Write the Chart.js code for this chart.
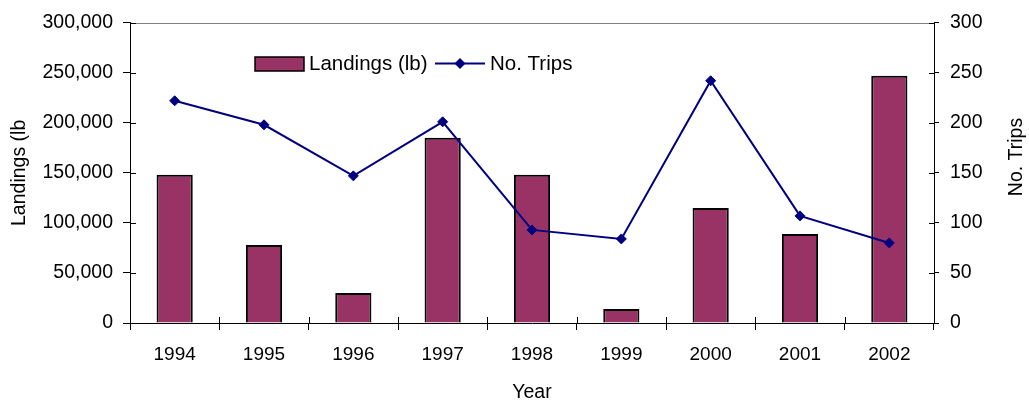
<!DOCTYPE html>
<html>
<head>
<meta charset="utf-8">
<script src="https://cdn.jsdelivr.net/npm/chart.js@4.4.1/dist/chart.umd.min.js"></script>
<style>
  html, body { margin: 0; padding: 0; background: #fff; }
  #wrap { width: 1029px; height: 405px; position: relative; }
</style>
</head>
<body>
<div id="wrap"><canvas id="c"></canvas></div>
<script>
const years = ['1994', '1995', '1996', '1997', '1998', '1999', '2000', '2001', '2002'];
const landings = [148000, 78000, 30000, 185000, 148000, 14000, 115000, 89000, 247000];
const trips = [222, 198, 147, 201, 93, 84, 242, 107, 80];
const leftTickLabels = ['0', '50,000', '100,000', '150,000', '200,000', '250,000', '300,000'];
const rightTickLabels = ['0', '50', '100', '150', '200', '250', '300'];
const seriesNames = ['Landings (lb)', 'No. Trips'];
const axisTitles = { x: 'Year', left: 'Landings (lb', right: 'No. Trips' };

const FONT = "'Liberation Sans', Arial, sans-serif";
const BAR_COLOR = '#993366';
const LINE_COLOR = '#000080';

const extras = {
  id: 'extras',
  afterDraw(chart) {
    const ctx = chart.ctx;
    const ca = chart.chartArea;
    const sx = chart.scales.x, sy = chart.scales.y, sy1 = chart.scales.y1;
    ctx.save();
    // top border of plot area
    ctx.strokeStyle = '#808080';
    ctx.lineWidth = 1;
    ctx.beginPath();
    ctx.moveTo(ca.left, Math.round(ca.top) + 0.5);
    ctx.lineTo(ca.right, Math.round(ca.top) + 0.5);
    ctx.stroke();
    // inner halves of cross tick marks
    ctx.strokeStyle = '#000';
    ctx.beginPath();
    sy.ticks.forEach((t) => {
      const y = Math.round(sy.getPixelForValue(t.value)) + 0.5;
      ctx.moveTo(ca.left, y); ctx.lineTo(ca.left + 6, y);
    });
    sy1.ticks.forEach((t) => {
      const y = Math.round(sy1.getPixelForValue(t.value)) + 0.5;
      ctx.moveTo(ca.right - 5, y); ctx.lineTo(ca.right, y);
    });
    for (let i = 0; i <= years.length; i++) {
      const x = Math.round(sx.getPixelForValue(i - 0.5)) + 0.5;
      ctx.moveTo(x, ca.bottom); ctx.lineTo(x, ca.bottom - 6);
    }
    ctx.stroke();

    // legend
    const lineDs = chart.data.datasets[0], barDs = chart.data.datasets[1];
    ctx.font = '20.5px ' + FONT;
    ctx.textBaseline = 'middle';
    ctx.textAlign = 'left';
    ctx.fillStyle = barDs.backgroundColor;
    ctx.fillRect(255, 57, 49, 14);
    ctx.strokeStyle = barDs.borderColor;
    ctx.lineWidth = 1.5;
    ctx.strokeRect(255, 57, 49, 14);
    ctx.fillStyle = '#000';
    ctx.fillText(barDs.label, 309, 64);
    ctx.strokeStyle = lineDs.borderColor;
    ctx.lineWidth = 2;
    ctx.beginPath();
    ctx.moveTo(435, 63.5); ctx.lineTo(485, 63.5);
    ctx.stroke();
    ctx.fillStyle = lineDs.borderColor;
    ctx.beginPath();
    ctx.moveTo(454.5, 63.5); ctx.lineTo(460, 58); ctx.lineTo(465.5, 63.5); ctx.lineTo(460, 69);
    ctx.closePath();
    ctx.fill();
    ctx.fillStyle = '#000';
    ctx.fillText(lineDs.label, 490, 64);

    // right axis title reading bottom-to-top
    ctx.font = '19.5px ' + FONT;
    ctx.translate(1017, 157);
    ctx.rotate(-Math.PI / 2);
    ctx.textAlign = 'center';
    ctx.fillText(axisTitles.right, 0, 0);
    ctx.restore();
  }
};

new Chart(document.getElementById('c'), {
  data: {
    labels: years,
    datasets: [
      {
        type: 'line',
        label: seriesNames[1],
        data: trips,
        yAxisID: 'y1',
        borderColor: LINE_COLOR,
        backgroundColor: LINE_COLOR,
        borderWidth: 2,
        tension: 0,
        pointStyle: 'rectRot',
        pointRadius: 5,
        pointBorderWidth: 1,
        pointBackgroundColor: LINE_COLOR,
        pointBorderColor: LINE_COLOR,
        order: 0
      },
      {
        type: 'bar',
        label: seriesNames[0],
        data: landings,
        yAxisID: 'y',
        backgroundColor: BAR_COLOR,
        borderColor: '#000',
        borderWidth: 2,
        barPercentage: 0.405,
        categoryPercentage: 1,
        order: 1
      }
    ]
  },
  options: {
    responsive: true,
    maintainAspectRatio: false,
    animation: false,
    devicePixelRatio: 1,
    layout: { padding: { top: 19, left: 0, right: 0, bottom: 0 } },
    plugins: { legend: { display: false }, tooltip: { enabled: false } },
    scales: {
      x: {
        type: 'category',
        offset: true,
        grid: { offset: true, drawOnChartArea: false, tickLength: 7, color: '#000' },
        border: { color: '#000', width: 1 },
        ticks: { color: '#000', font: { family: FONT, size: 19 }, padding: 13, maxRotation: 0, autoSkip: false },
        title: { display: true, text: axisTitles.x, color: '#000', font: { family: FONT, size: 19.5 }, padding: { top: 0, bottom: 1 } },
        afterFit(s) { s.height = 82; }
      },
      y: {
        position: 'left',
        min: 0, max: 300000,
        ticks: { stepSize: 50000, color: '#000', font: { family: FONT, size: 19.5 }, padding: 10,
          callback: (v, i) => leftTickLabels[i] },
        grid: { drawOnChartArea: false, tickLength: 7, color: '#000' },
        border: { color: '#000', width: 1 },
        title: { display: true, text: axisTitles.left, color: '#000', font: { family: FONT, size: 19.5 }, padding: { top: 8, bottom: 0 } },
        afterFit(s) { s.width = 130; }
      },
      y1: {
        position: 'right',
        min: 0, max: 300,
        ticks: { stepSize: 50, color: '#000', font: { family: FONT, size: 19.5 }, padding: 11,
          callback: (v, i) => rightTickLabels[i] },
        grid: { drawOnChartArea: false, tickLength: 5, color: '#000' },
        border: { color: '#000', width: 1 },
        afterFit(s) { s.width = 95; }
      }
    }
  },
  plugins: [extras]
});
</script>
</body>
</html>
